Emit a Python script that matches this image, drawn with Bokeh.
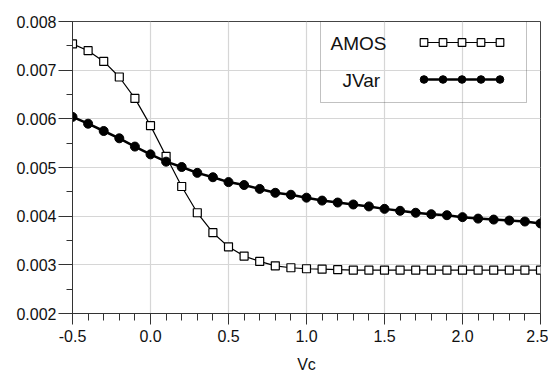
from bokeh.plotting import figure
from bokeh.models import (Range1d, FixedTicker, PrintfTickFormatter, Legend, LegendItem,
                          Label, BoxAnnotation)
from bokeh.embed import file_html
from bokeh.resources import INLINE

vc = [-0.5, -0.4, -0.3, -0.2, -0.1, 0.0, 0.1, 0.2, 0.3, 0.4, 0.5, 0.6, 0.7, 0.8, 0.9, 1.0,
      1.1, 1.2, 1.3, 1.4, 1.5, 1.6, 1.7, 1.8, 1.9, 2.0, 2.1, 2.2, 2.3, 2.4, 2.5]
amos = [0.00754, 0.00740, 0.00718, 0.00686, 0.00642, 0.00586, 0.00523, 0.00461, 0.00407,
        0.00366, 0.00337, 0.00318, 0.00307, 0.00298, 0.00294, 0.00292, 0.00291, 0.00290,
        0.00289, 0.00289, 0.00289, 0.00289, 0.00289, 0.00289, 0.00289, 0.00289, 0.00289,
        0.00289, 0.00289, 0.00289, 0.00289]
jvar = [0.00604, 0.00590, 0.00575, 0.00560, 0.00543, 0.00527, 0.00512, 0.00501, 0.00489,
        0.00480, 0.00470, 0.00464, 0.00456, 0.00448, 0.00444, 0.00438, 0.00432, 0.00428,
        0.00424, 0.00420, 0.00415, 0.00411, 0.00407, 0.00404, 0.00402, 0.00398, 0.00395,
        0.00393, 0.00391, 0.00389, 0.00385]
series_names = ["AMOS", "JVar"]
x_ticks = [-0.5, 0.0, 0.5, 1.0, 1.5, 2.0, 2.5]
x_minor = [-0.5 + 0.1 * i for i in range(31)]
y_ticks = [0.002, 0.003, 0.004, 0.005, 0.006, 0.007, 0.008]
y_minor = [0.002 + 0.0005 * i for i in range(13)]

FONT = "Liberation Sans"

p = figure(width=548, height=376, output_backend="svg", toolbar_location=None,
           x_range=Range1d(-0.5, 2.5), y_range=Range1d(0.002, 0.008),
           min_border_left=72, min_border_right=8, min_border_top=21, min_border_bottom=63)
p.background_fill_color = "white"
p.border_fill_color = "white"
p.outline_line_color = "#444444"
p.outline_line_width = 1

p.xaxis.ticker = FixedTicker(ticks=x_ticks, minor_ticks=x_minor)
p.yaxis.ticker = FixedTicker(ticks=y_ticks, minor_ticks=y_minor)
p.xaxis.formatter = PrintfTickFormatter(format="%.1f")
p.yaxis.formatter = PrintfTickFormatter(format="%.3f")

for ax in (p.xaxis, p.yaxis):
    ax.axis_line_color = "#333333"
    ax.major_tick_line_color = "#333333"
    ax.minor_tick_line_color = "#333333"
    ax.major_tick_in = 0
    ax.minor_tick_in = 0
    ax.major_label_text_font = FONT
    ax.major_label_text_font_size = "16px"
    ax.major_label_text_color = "#111111"
    ax.axis_label_text_font = FONT
    ax.axis_label_text_font_style = "normal"
    ax.axis_label_text_font_size = "16px"
    ax.axis_label_text_color = "#111111"

p.xaxis.major_tick_out = 11
p.xaxis.minor_tick_out = 7
p.yaxis.major_tick_out = 14
p.yaxis.minor_tick_out = 6
p.xaxis.axis_label = "Vc"
p.xaxis.major_label_standoff = 5
p.xaxis.axis_label_standoff = 11
p.yaxis.major_label_standoff = 2

p.xgrid.ticker = FixedTicker(ticks=x_ticks)
p.ygrid.ticker = FixedTicker(ticks=y_ticks)
p.grid.grid_line_color = "#d6d6d6"
p.grid.grid_line_width = 1.2

l1 = p.line(vc, amos, line_color="black", line_width=1.2)
s1 = p.scatter(vc, amos, marker="square", size=8, fill_color="white",
               line_color="black", line_width=1.2)
l2 = p.line(vc, jvar, line_color="black", line_width=2.5)
s2 = p.scatter(vc, jvar, marker="circle", size=9, fill_color="black",
               line_color="black")

# legend frame (frame-relative screen units, y upward from frame bottom)
box = BoxAnnotation(left=248, right=454, top=293, bottom=211,
                    left_units="screen", right_units="screen",
                    top_units="screen", bottom_units="screen",
                    fill_alpha=0, line_color="#333333", line_width=1)
p.add_layout(box)

for name, lx, ly in zip(series_names, [258, 270], [270, 233]):
    p.add_layout(Label(x=lx, y=ly, x_units="screen", y_units="screen", text=name,
                       text_font=FONT, text_font_size="19px", text_color="#111111",
                       text_baseline="middle", text_align="left"))


def style_glyph_legend(lg, gw):
    lg.glyph_width = gw
    lg.glyph_height = 20
    lg.label_height = 20
    lg.label_width = 0
    lg.label_standoff = 0
    lg.padding = 0
    lg.border_line_alpha = 0
    lg.background_fill_alpha = 0
    return lg


# sample lines
lines_leg = Legend(items=[LegendItem(label="", renderers=[l1]),
                          LegendItem(label="", renderers=[l2])],
                   location=(351, 224), margin=0)
style_glyph_legend(lines_leg, 76)
lines_leg.spacing = 17
p.add_layout(lines_leg)

# five sample markers on each legend line
for rend, ly in [(s1, 261), (s2, 224)]:
    mk = Legend(items=[LegendItem(label="", renderers=[rend]) for _ in range(5)],
                location=(341.5, ly), margin=0, orientation="horizontal")
    style_glyph_legend(mk, 19)
    mk.spacing = 0
    p.add_layout(mk)

open("out.html", "w").write(file_html(p, INLINE))
